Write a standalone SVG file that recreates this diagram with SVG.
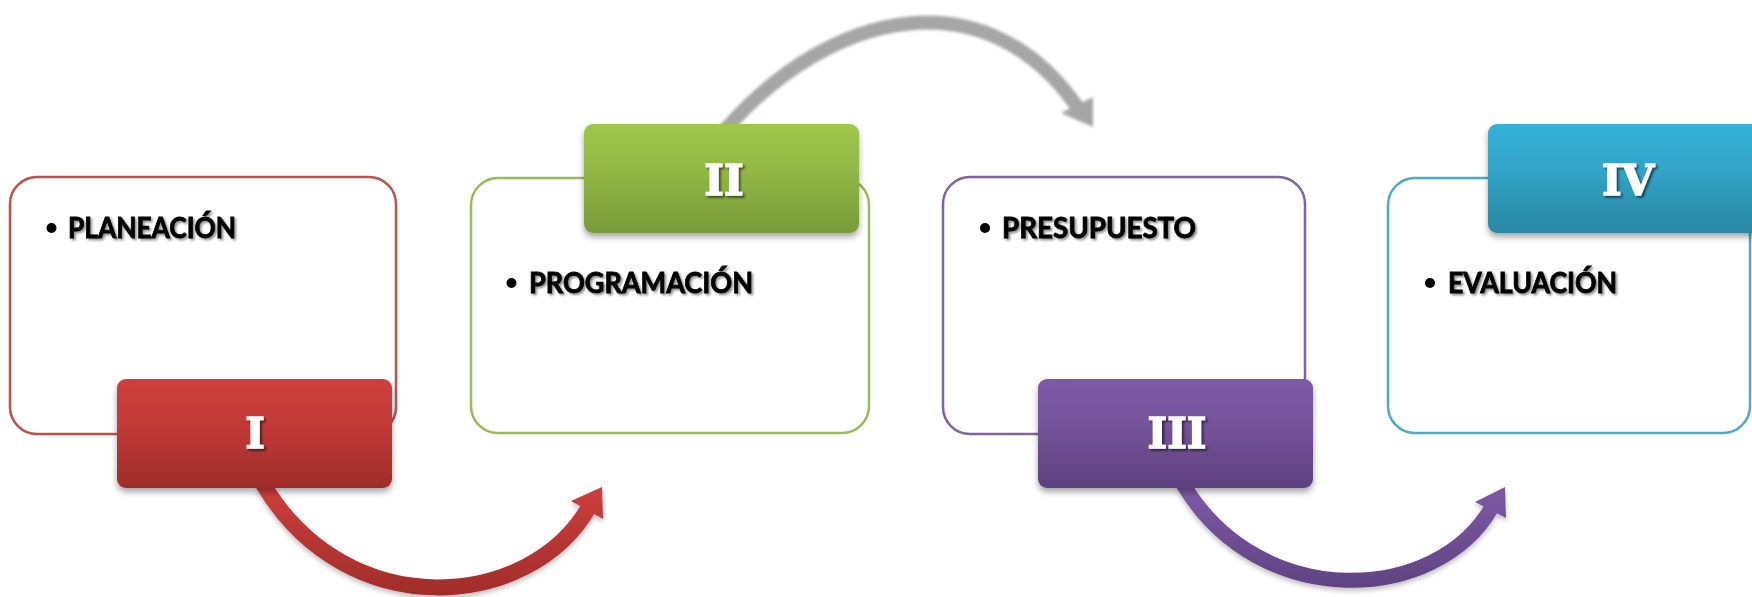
<svg xmlns="http://www.w3.org/2000/svg" width="1752" height="597" viewBox="0 0 1752 597">
  <defs>
    <linearGradient id="gRed" x1="0" y1="0" x2="0" y2="1">
      <stop offset="0" stop-color="#ce3f3c"/>
      <stop offset="0.4" stop-color="#c33a37"/>
      <stop offset="1" stop-color="#9f2c2a"/>
    </linearGradient>
    <linearGradient id="gGreen" x1="0" y1="0" x2="0" y2="1">
      <stop offset="0" stop-color="#9fc74a"/>
      <stop offset="0.4" stop-color="#94b945"/>
      <stop offset="1" stop-color="#789a39"/>
    </linearGradient>
    <linearGradient id="gPurple" x1="0" y1="0" x2="0" y2="1">
      <stop offset="0" stop-color="#7e5aa6"/>
      <stop offset="0.4" stop-color="#75539b"/>
      <stop offset="1" stop-color="#5e4180"/>
    </linearGradient>
    <linearGradient id="gBlue" x1="0" y1="0" x2="0" y2="1">
      <stop offset="0" stop-color="#36b2d7"/>
      <stop offset="0.4" stop-color="#31a5c8"/>
      <stop offset="1" stop-color="#2a87a2"/>
    </linearGradient>
    <linearGradient id="aRed" gradientUnits="userSpaceOnUse" x1="0" y1="485" x2="0" y2="597">
      <stop offset="0" stop-color="#ce3f3c"/>
      <stop offset="1" stop-color="#a02c2a"/>
    </linearGradient>
    <linearGradient id="aPurple" gradientUnits="userSpaceOnUse" x1="0" y1="485" x2="0" y2="590">
      <stop offset="0" stop-color="#7e5aa6"/>
      <stop offset="1" stop-color="#5f4281"/>
    </linearGradient>
    <filter id="tabShadow" x="-10%" y="-10%" width="120%" height="130%">
      <feDropShadow dx="0" dy="4" stdDeviation="3" flood-color="#000" flood-opacity="0.35"/>
    </filter>
    <filter id="arrowShadow" x="-10%" y="-10%" width="120%" height="130%">
      <feDropShadow dx="0" dy="3" stdDeviation="2.5" flood-color="#000" flood-opacity="0.25"/>
    </filter>
    <filter id="blur" x="-10%" y="-20%" width="120%" height="140%">
      <feGaussianBlur stdDeviation="1.6"/>
    </filter>
    <filter id="txtShadow" x="-5%" y="-20%" width="110%" height="150%">
      <feDropShadow dx="1.8" dy="1.8" stdDeviation="0.8" flood-color="#000" flood-opacity="0.45"/>
    </filter>
    <filter id="numShadow" x="-10%" y="-20%" width="130%" height="150%">
      <feDropShadow dx="2" dy="2" stdDeviation="1" flood-color="#000" flood-opacity="0.55"/>
    </filter>
  </defs>
  <style>
    .box { fill: #ffffff; stroke-width: 2.5; }
    .item { font-family: Lato, "Liberation Sans", sans-serif; font-weight: 700; font-size: 28px; fill: #000; stroke: #000; stroke-width: 0.8; filter: url(#txtShadow); }
    .num { font-family: "DejaVu Serif", "Liberation Serif", serif; font-weight: 700; font-size: 42px; fill: #ffffff; stroke: #ffffff; stroke-width: 1.4; text-anchor: middle; filter: url(#numShadow); }
    .bullet { fill: #000; }
  </style>
  <rect width="1752" height="597" fill="#ffffff"/>

  <g id="connectors">
    <g id="arrow-gray" filter="url(#blur)" fill="#a6a6a6">
      <path d="M725,130 C831.5,8.3 986.4,-24.4 1078,108" fill="none" stroke="#a6a6a6" stroke-width="14"/>
      <polygon points="1093,127 1093,97 1061,113"/>
    </g>
    <g id="arrow-red" filter="url(#arrowShadow)">
      <path d="M263,484 C347.2,625.9 530.6,610.1 589,507" fill="none" stroke="url(#aRed)" stroke-width="16"/>
      <polygon points="602,487 571,501 603,519" fill="url(#aRed)"/>
    </g>
    <g id="arrow-purple" filter="url(#arrowShadow)">
      <path d="M1183,484 C1259.5,613 1437.1,604 1492,507" fill="none" stroke="url(#aPurple)" stroke-width="15"/>
      <polygon points="1505,487 1475,502 1506,518" fill="url(#aPurple)"/>
    </g>
  </g>

  <g id="node-1">
    <rect class="box" x="10" y="177" width="386" height="257" rx="27" stroke="#c0504d"/>
    <circle class="bullet" cx="51.5" cy="228" r="5"/>
    <text class="item" x="68" y="238" textLength="168" lengthAdjust="spacingAndGlyphs">PLANEACIÓN</text>
    <rect x="117" y="379" width="275" height="109" rx="9" fill="url(#gRed)" filter="url(#tabShadow)"/>
    <text class="num" x="255" y="448">I</text>
  </g>

  <g id="node-2">
    <rect class="box" x="471" y="178" width="398" height="255" rx="27" stroke="#9bbb59"/>
    <circle class="bullet" cx="511.5" cy="283" r="5"/>
    <text class="item" x="529" y="293" textLength="224" lengthAdjust="spacingAndGlyphs">PROGRAMACIÓN</text>
    <rect x="584" y="124" width="275" height="109" rx="9" fill="url(#gGreen)" filter="url(#tabShadow)"/>
    <text class="num" x="724" y="195">II</text>
  </g>

  <g id="node-3">
    <rect class="box" x="943" y="177" width="362" height="257" rx="27" stroke="#8064a2"/>
    <circle class="bullet" cx="985" cy="228" r="5"/>
    <text class="item" x="1002" y="238" textLength="194" lengthAdjust="spacingAndGlyphs">PRESUPUESTO</text>
    <rect x="1038" y="379" width="275" height="109" rx="9" fill="url(#gPurple)" filter="url(#tabShadow)"/>
    <text class="num" x="1177" y="448">III</text>
  </g>

  <g id="node-4">
    <rect class="box" x="1388" y="178" width="362" height="255" rx="27" stroke="#4bacc6"/>
    <circle class="bullet" cx="1430" cy="283" r="5"/>
    <text class="item" x="1448" y="293" textLength="169" lengthAdjust="spacingAndGlyphs">EVALUACIÓN</text>
    <rect x="1488" y="124" width="275" height="109" rx="9" fill="url(#gBlue)" filter="url(#tabShadow)"/>
    <text class="num" x="1628" y="195">IV</text>
  </g>
</svg>
